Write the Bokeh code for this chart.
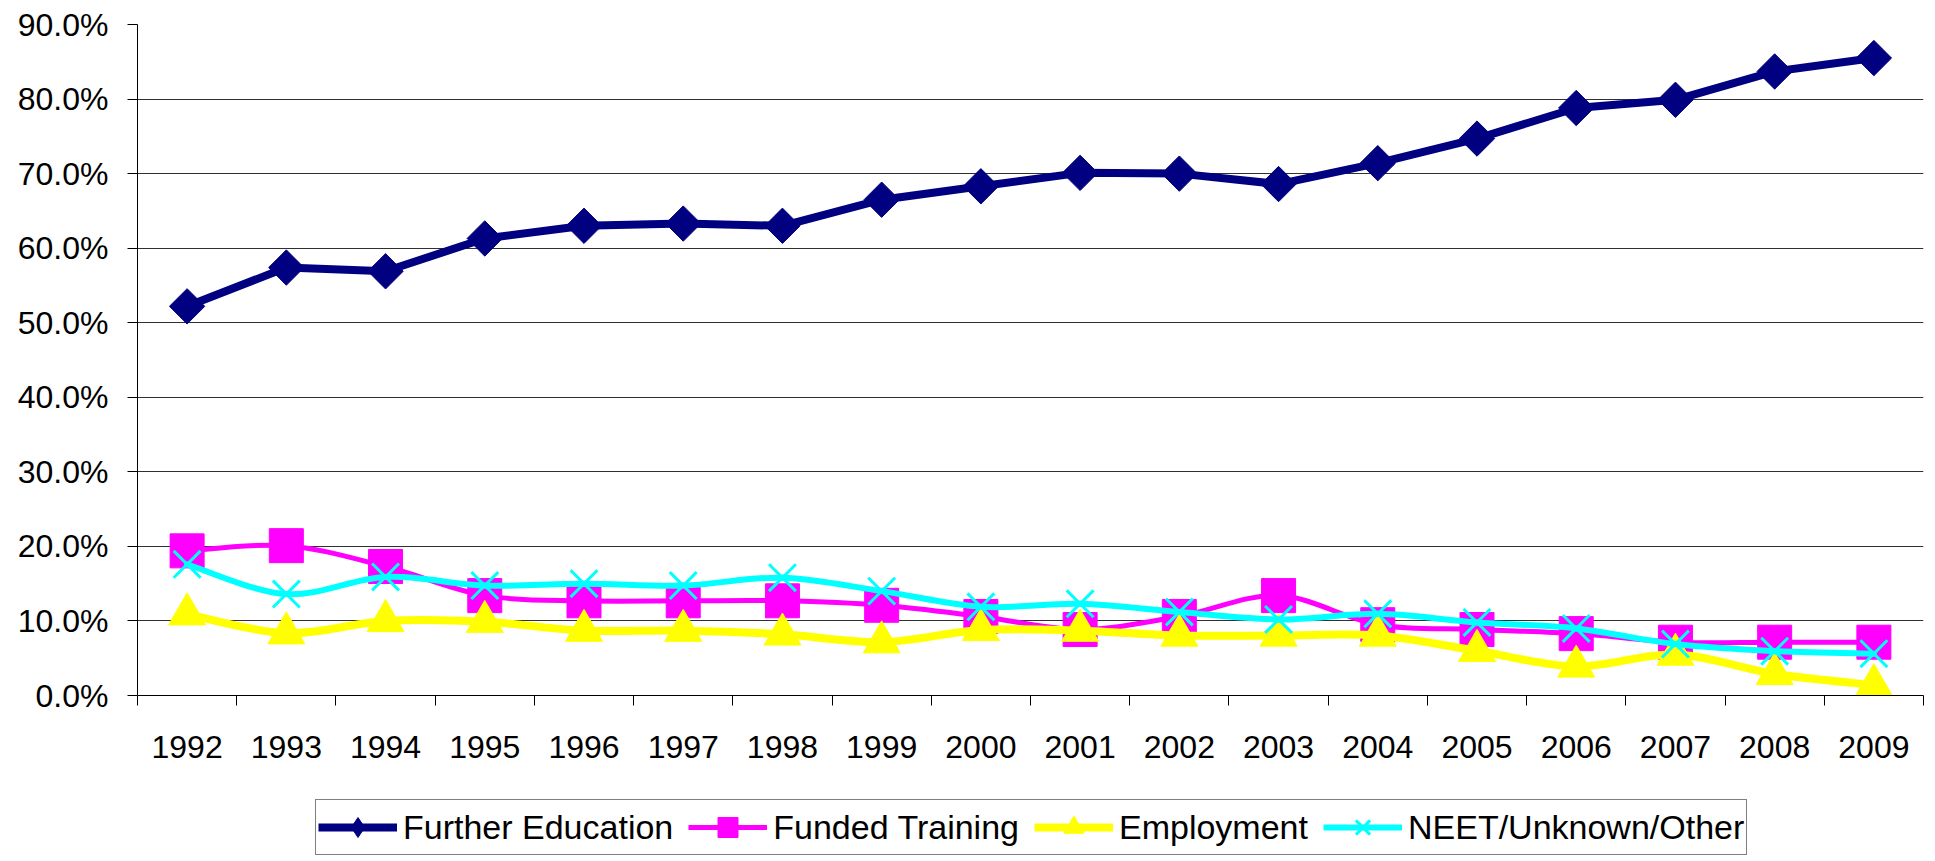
import numpy as np
from bokeh.plotting import figure
from bokeh.layouts import column
from bokeh.models import Range1d, FixedTicker, PrintfTickFormatter, Legend, LegendItem, ColumnDataSource
from bokeh.embed import file_html
from bokeh.resources import INLINE

years = ["1992", "1993", "1994", "1995", "1996", "1997", "1998", "1999", "2000",
         "2001", "2002", "2003", "2004", "2005", "2006", "2007", "2008", "2009"]
further_education = [52.2, 57.4, 56.9, 61.3, 63.0, 63.3, 63.0, 66.5, 68.3,
                     70.1, 70.0, 68.6, 71.4, 74.7, 78.8, 79.9, 83.7, 85.5]
funded_training = [19.4, 20.1, 17.3, 13.4, 12.7, 12.7, 12.7, 12.1, 10.6,
                   8.85, 10.6, 13.4, 9.5, 8.85, 8.3, 7.15, 7.15, 7.15]
employment = [10.9, 8.35, 10.0, 9.9, 8.7, 8.7, 8.2, 7.15, 8.8,
              8.7, 8.05, 8.05, 8.05, 6.0, 3.9, 5.5, 2.9, 1.4]
neet = [17.6, 13.6, 15.9, 14.75, 15.0, 14.75, 15.8, 14.0, 11.9,
        12.3, 11.2, 10.2, 10.95, 9.8, 9.0, 6.9, 5.95, 5.6]
series_names = ["Further Education", "Funded Training", "Employment", "NEET/Unknown/Other"]
y_ticks = [0, 10, 20, 30, 40, 50, 60, 70, 80, 90]

FONT = "Liberation Sans"
xs = list(range(len(years)))

p = figure(width=1927, height=780, output_backend="svg", toolbar_location=None,
           x_range=Range1d(-0.5, len(years) - 0.5), y_range=Range1d(0, 90),
           min_border_left=137, min_border_right=4, min_border_top=24, min_border_bottom=85,
           background_fill_color="white", border_fill_color="white")
p.outline_line_color = None
p.xgrid.visible = False
p.ygrid.ticker = FixedTicker(ticks=y_ticks)
p.ygrid.grid_line_color = "#303030"
p.ygrid.grid_line_width = 1

# x axis: labels at centres, tick marks at category boundaries
p.xaxis.ticker = FixedTicker(ticks=xs, minor_ticks=[i - 0.5 for i in range(len(years) + 1)])
p.xaxis.major_label_overrides = {i: y for i, y in enumerate(years)}
p.xaxis.major_tick_out = 0
p.xaxis.major_tick_in = 0
p.xaxis.minor_tick_out = 10
p.xaxis.minor_tick_in = 0
p.xaxis.minor_tick_line_color = "black"
p.xaxis.axis_line_color = "black"
p.xaxis.major_label_standoff = 30
p.xaxis.major_label_text_font = FONT
p.xaxis.major_label_text_font_size = "32px"
p.xaxis.major_label_text_color = "black"

p.yaxis.ticker = FixedTicker(ticks=y_ticks)
p.yaxis.formatter = PrintfTickFormatter(format="%.1f%%")
p.yaxis.major_tick_out = 10
p.yaxis.major_tick_in = 0
p.yaxis.minor_tick_out = 0
p.yaxis.minor_tick_in = 0
p.yaxis.major_tick_line_color = "black"
p.yaxis.axis_line_color = "black"
p.yaxis.major_label_standoff = 19
p.yaxis.major_label_text_font = FONT
p.yaxis.major_label_text_font_size = "32px"
p.yaxis.major_label_text_color = "black"


def smooth_source(vals):
    n = len(vals)
    d = dict(x0=[], y0=[], x1=[], y1=[], cx0=[], cy0=[], cx1=[], cy1=[])
    for i in range(n - 1):
        a = i - 1 if i > 0 else i
        b = i + 2 if i + 2 < n else i + 1
        d["x0"].append(xs[i]); d["y0"].append(vals[i])
        d["x1"].append(xs[i + 1]); d["y1"].append(vals[i + 1])
        d["cx0"].append(xs[i] + (xs[i + 1] - xs[a]) / 6.0)
        d["cy0"].append(vals[i] + (vals[i + 1] - vals[a]) / 6.0)
        d["cx1"].append(xs[i + 1] - (xs[b] - xs[i]) / 6.0)
        d["cy1"].append(vals[i + 1] - (vals[b] - vals[i]) / 6.0)
    return ColumnDataSource(d)


NAVY, MAGENTA, YELLOW, CYAN = "#000080", "#FF00FF", "#FFFF00", "#00FFFF"
styles = [
    dict(color=NAVY, lw=8, marker="square", angle=np.pi / 4, size=25, key="diamond"),
    dict(color=MAGENTA, lw=5, marker="square", angle=0.0, size=34, key="square"),
    dict(color=YELLOW, lw=8, marker="triangle", angle=0.0, size=37, key="triangle"),
    dict(color=CYAN, lw=6, marker="x", angle=0.0, size=38, key="x"),
]

# Further Education: straight segments
p.line(xs, further_education, line_color=NAVY, line_width=8, line_join="round")
p.scatter(xs, further_education, marker="square", angle=np.pi / 4, size=25,
          fill_color=NAVY, line_color=NAVY)

# other series: smoothed lines
for vals, st in zip([funded_training, employment, neet], styles[1:]):
    p.bezier(x0="x0", y0="y0", x1="x1", y1="y1", cx0="cx0", cy0="cy0", cx1="cx1", cy1="cy1",
             source=smooth_source(vals), line_color=st["color"], line_width=st["lw"], line_cap="round")
    if st["marker"] == "x":
        p.scatter(xs, vals, marker="x", size=st["size"], line_color=st["color"], line_width=3)
    else:
        p.scatter(xs, vals, marker=st["marker"], size=st["size"],
                  fill_color=st["color"], line_color=st["color"])

# legend in a strip below the chart (its frame is aligned with the chart's frame)
lf = figure(width=1927, height=78, output_backend="svg", toolbar_location=None,
            x_range=Range1d(0, 1), y_range=Range1d(0, 1),
            min_border_left=0, min_border_right=0, min_border_top=0, min_border_bottom=0,
            background_fill_color="white", border_fill_color="white")
lf.outline_line_color = None
lf.axis.visible = False
lf.grid.visible = False
items = []
off = [-5, -4]  # sample renderers kept outside the visible range: legend keys only
for name, st in zip(series_names, styles):
    r_line = lf.line(x=off, y=off, line_color=st["color"], line_width=st["lw"])
    if st["key"] == "x":
        r_mark = lf.scatter(x=off, y=off, marker="x", size=st["size"], line_color=st["color"], line_width=3)
    else:
        r_mark = lf.scatter(x=off, y=off, marker=st["key"], size=st["size"],
                            fill_color=st["color"], line_color=st["color"])
    items.append(LegendItem(label=name, renderers=[r_line, r_mark]))

legend = Legend(items=items, orientation="horizontal", location=(178, 3))
legend.label_text_font = FONT
legend.label_text_font_size = "34px"
legend.label_text_color = "black"
legend.label_standoff = 6
legend.glyph_width = 79
legend.glyph_height = 50
legend.spacing = 15
legend.padding = 2
legend.margin = 0
legend.border_line_color = "black"
legend.border_line_width = 1
legend.background_fill_color = "white"
legend.background_fill_alpha = 1
lf.add_layout(legend, "center")

layout = column(p, lf, spacing=0)
open("out.html", "w").write(file_html(layout, INLINE))
